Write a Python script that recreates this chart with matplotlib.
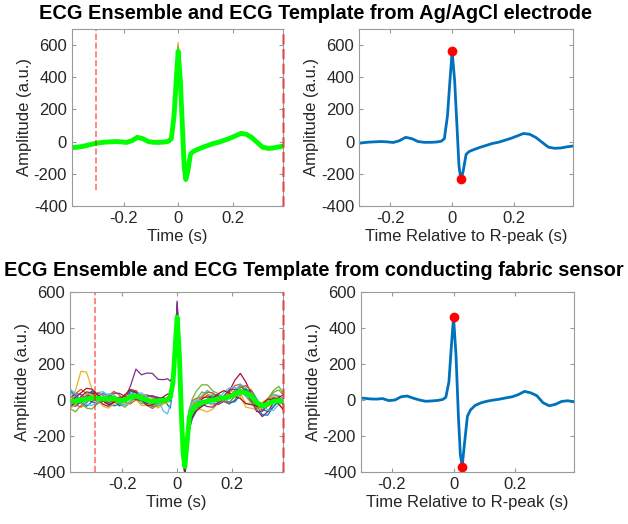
import matplotlib
matplotlib.use('Agg')
import matplotlib.pyplot as plt
import numpy as np

plt.rcParams['font.family'] = ['Liberation Sans', 'DejaVu Sans']
plt.rcParams['axes.unicode_minus'] = False

#%% Datos
# eje de tiempo común (s), más denso alrededor del complejo QRS
t = [-0.39, -0.37, -0.35, -0.33, -0.31, -0.29, -0.27, -0.25, -0.23, -0.21,
     -0.19, -0.17, -0.15, -0.13, -0.11, -0.09, -0.07, -0.05,
     -0.035, -0.025, -0.015, -0.007, 0.0, 0.008, 0.016, 0.022, 0.028, 0.035,
     0.045, 0.055, 0.07,
     0.09, 0.11, 0.13, 0.15, 0.17, 0.19, 0.21, 0.23, 0.25, 0.27, 0.29, 0.31,
     0.33, 0.35, 0.37, 0.39]

# plantilla ECG - electrodo Ag/AgCl
tmpl_agcl = [-38, -35, -30, -22, -14, -8, -4, -2, 0, -2,
             -6, 5, 26, 18, 0, -5, -5, -3,
             2, 18, 160, 380, 560, 380, 80, -150, -235, -190,
             -80, -62, -50,
             -36, -24, -12, -4, 8, 20, 35, 50, 45, 25, -5, -35,
             -42, -40, -33, -28]

# plantilla ECG - sensor de tela conductora
tmpl_fabric = [-8, -5, 0, 5, 10, 10, 6, 5, 8, -3,
               0, 18, 22, 10, 0, -7, -5, -2,
               3, 15, 100, 300, 460, 250, -100, -300, -370, -250,
               -90, -55, -30,
               -15, -6, 0, 5, 12, 18, 30, 48, 40, 24, -15, -32,
               -24, -8, -4, -10]

# desviaciones de cada latido respecto a la plantilla (Ag/AgCl)
dev_agcl = [
    [-5, -8, -6, -3, 0, 2, 4, 3, -2, -5, -4, 2, 6, 3, -2, -6, -8, -4,
     -2, 0, 10, 20, 40, 15, 0, -5, -10, -5, -6, -4, -2,
     -4, -6, -3, 2, 6, 8, 5, 2, -3, -6, -4, 2, 6, 3, -2, -6],
    [6, 4, 1, -2, -5, -3, 0, 4, 6, 3, -2, -5, -8, -4, 2, 5, 3, 0,
     0, -2, -10, -20, 20, -10, -20, 10, 5, 8, 6, 3, 2,
     5, 8, 4, -2, -6, -4, 2, 8, 10, 4, -4, -8, -5, 2, 6, 4],
    [-10, -6, -2, 2, 4, 2, -3, -6, -4, 0, 3, 6, 4, -2, -6, -4, 0, 2,
     3, 5, 15, 30, 55, 30, 10, -10, -15, -10, -4, -2, 0,
     2, -2, -6, -8, -4, 2, 6, 10, 6, 0, -5, -10, -12, -6, 0, 4],
    [3, 5, 8, 6, 2, -2, -4, -2, 2, 5, 4, 0, -4, -6, -3, 2, 5, 4,
     2, 0, -5, -15, -10, -20, -10, 5, 0, -6, -8, -5, -2,
     -6, -2, 2, 5, 4, 0, -4, -6, -2, 4, 8, 6, 2, -4, -8, -5],
    [0, -3, -5, -6, -3, 1, 5, 6, 3, -1, -5, -8, -2, 5, 8, 4, -2, -4,
     -3, -1, 5, 10, 30, 0, -15, -15, -5, 5, 4, 2, 4,
     6, 4, 0, -4, -8, -6, -2, 3, 8, 12, 6, -2, -6, -10, -4, 2],
    [8, 6, 3, 0, -2, -4, -2, 0, -3, -6, -2, 4, 8, 4, 0, 3, 6, 3,
     1, 2, -5, -10, 15, 10, 0, -8, -12, -4, 3, 6, 4,
     2, 0, 2, -2, 0, 4, -2, -6, -4, -2, 4, 10, 8, 4, 0, -2],
]

# desviaciones de cada latido respecto a la plantilla (tela conductora)
dev_fabric = [
    [60, 30, -10, -40, -20, 10, 30, 20, -10, -30, -20, 10, 30, 10, -20, -30, -10, 20,
     -30, -60, -20, 30, 60, 20, -20, -30, -40, -60, -50, -30, -20,
     -10, 10, 30, 20, -10, -30, -40, -20, 10, 30, 20, -20, -40, -30, 0, 20],
    [20, 40, 60, 30, 0, -20, -10, 20, 40, 30, -10, -40, -20, 10, 30, 20, 0, -10,
     10, 20, 30, 40, 50, 20, 0, 10, 20, 30, 40, 50, 40,
     30, 20, 0, -20, -10, 20, 50, 40, 10, -20, -30, -10, 20, 40, 20, 0],
    [-20, 60, 160, 150, 50, -10, -30, -10, 20, 10, -20, -30, -10, 10, 20, -10, -40, -20,
     0, 10, 20, 30, 40, 10, -20, -20, -10, 20, 40, 30, 20,
     10, -10, -30, -20, 10, 30, 20, -10, -60, -40, -10, 20, 30, 10, -20, -40],
    [-10, -20, -10, 10, 30, 20, 0, -20, -10, 20, 10, 60, 150, 130, 150, 155, 120, 115,
     115, 90, 40, 20, 80, 40, 0, -10, -20, -10, 0, 10, 10,
     0, -10, -20, -30, -20, 0, 20, 30, 10, -10, -20, -10, 10, 20, 0, -10],
    [-40, -60, -30, 0, 20, 10, -10, -30, -20, 10, 30, 20, -10, -30, -20, 0, 20, 10,
     0, -10, -10, 0, 20, 10, 0, 0, 10, 20, 40, 60, 80,
     100, 90, 50, 30, 0, -10, 10, 30, 20, -10, -20, 0, 30, 60, 80, 40],
    [50, 20, -10, -20, 0, 30, 40, 20, -10, -20, 0, 20, 10, -20, -30, -10, 10, -60,
     -80, -40, 0, 20, 30, 0, -10, -20, -30, -40, -20, 0, 10,
     40, 60, 30, 0, -20, -10, 20, 40, 30, 0, -30, -20, 10, 40, 30, 10],
    [-30, -10, 20, 40, 30, 0, -30, -40, -20, 10, 20, 0, -20, -10, 20, 30, 10, -10,
     -10, 0, 10, 20, 30, 0, -30, -20, -30, -40, -30, -10, 0,
     20, 30, 10, -20, -10, 30, 80, 100, 60, 10, -40, -60, -40, -10, 20, 40],
    [-20, -30, -10, 20, 40, 20, -10, -30, -40, -20, 10, 30, 20, -10, -20, 0, 10, 0,
     -10, -20, -30, -20, 30, -10, 0, -10, -50, -80, -70, -50, -30,
     -20, 0, 20, 10, -20, -40, -30, 0, 20, 10, -20, -50, -60, -30, 0, 10],
    [10, -20, -40, -20, 10, 30, 20, 0, -20, -10, 20, 40, 30, 0, -30, -40, -20, 0,
     10, 20, 40, 60, 70, 30, 10, 0, -20, -40, -30, -10, 10,
     30, 50, 40, 10, -20, -30, -10, 20, 40, 30, 0, -30, -10, 20, 0, -20],
    [-40, -20, 10, 30, 20, -10, -40, -50, -30, 0, 20, 10, -20, -40, -30, -10, 0, -20,
     -20, -10, 0, 10, 20, 0, -10, -20, -20, -10, 0, -10, -20,
     -40, -60, -50, -20, 10, 20, 0, -30, -80, -70, -40, -10, 20, 30, 10, -10],
    [20, 40, 30, 0, -20, -30, -10, 10, 30, 40, 20, 0, -20, -10, 20, 30, 20, 10,
     0, 10, 20, 40, 90, 30, 0, 10, -10, -30, -20, -10, 0,
     -10, -30, -40, -20, 10, 40, 30, 10, -10, -30, -50, -30, 0, 20, 10, -20],
    [30, 10, -20, -50, -60, -30, 0, 20, 10, -20, -40, -30, 0, 20, 10, -20, -30, -10,
     0, 0, -10, -20, -30, 0, 10, 20, 30, 50, 40, 20, 30,
     60, 40, 20, 0, -10, 0, 20, 10, -20, -40, -30, 0, 30, 50, 60, 30],
    [70, 40, 0, -30, -40, -20, 10, 30, 20, -10, -30, -20, 10, 30, 20, -10, -20, 0,
     10, 20, 30, 20, 10, -10, -20, -10, 0, 10, 30, 40, 30,
     10, -10, -20, 0, 30, 50, 40, 10, -20, -10, 10, 0, -30, -50, -20, 0],
    [0, 20, 40, 60, 50, 20, -10, -30, -20, 0, 30, 40, 20, -10, -30, -20, 0, 20,
     30, 20, 10, 0, -20, -10, 0, -20, -40, -60, -50, -40, -30,
     -20, -10, 10, 30, 40, 20, -10, -40, -60, -50, -20, 10, 30, 10, -20, -50],
]

titles = ['ECG Ensemble and ECG Template from Ag/AgCl electrode',
          'ECG Ensemble and ECG Template from conducting fabric sensor']
win_start = -0.3
win_end = 0.385

matlab_colors = ['#0072BD', '#D95319', '#EDB120', '#7E2F8E',
                 '#77AC30', '#4DBEEE', '#A2142F']
txt_color = '#262626'
spine_color = '#9a9a9a'

#%% Figura
fig = plt.figure(figsize=(6.28, 5.24), dpi=100)

positions = [
    ([0.1146, 0.607, 0.336, 0.338], [0.5717, 0.607, 0.341, 0.338]),
    ([0.1115, 0.0992, 0.339, 0.3435], [0.5748, 0.0992, 0.339, 0.3435]),
]
ylims = [(-400, 700), (-400, 600)]
vline_bottom = [-300, -400]
title_y = [0.975, 0.484]
title_x = [0.503, 0.5]


def style_axes(ax):
    for sp in ax.spines.values():
        sp.set_color(spine_color)
        sp.set_linewidth(0.8)
    ax.tick_params(direction='in', top=True, right=True, length=3,
                   color=spine_color, labelcolor=txt_color, labelsize=12)
    ax.set_yticks([-400, -200, 0, 200, 400, 600])
    ax.set_xticks([-0.2, 0, 0.2])
    ax.set_xticklabels(['-0.2', '0', '0.2'])


for row, (tmpl, devs) in enumerate([(tmpl_agcl, dev_agcl), (tmpl_fabric, dev_fabric)]):
    tt = np.array(t)
    yy = np.array(tmpl, dtype=float)

    # --- ensamble ---
    ax = fig.add_axes(positions[row][0])
    for i, d in enumerate(devs):
        ax.plot(tt, yy + np.array(d), color=matlab_colors[i % 7], lw=0.9)
    ax.plot(tt, yy, color='#00FF00', lw=3.5)
    ax.plot([win_start, win_start], [vline_bottom[row], ylims[row][1]],
            color='red', ls='--', lw=1.2, alpha=0.55)
    ax.plot([win_end, win_end], [ylims[row][0], ylims[row][1]],
            color='red', ls='--', lw=2.0, alpha=0.45, clip_on=False, zorder=5)
    ax.set_xlim(-0.39, win_end)
    ax.set_ylim(*ylims[row])
    style_axes(ax)
    ax.set_xlabel('Time (s)', fontsize=12, color=txt_color, labelpad=2)
    ax.set_ylabel('Amplitude (a.u.)', fontsize=12, color=txt_color, labelpad=1)

    # --- plantilla ---
    ax2 = fig.add_axes(positions[row][1])
    ax2.plot(tt, yy, color='#0072BD', lw=2)
    ipk = int(np.argmax(yy))
    itr = int(np.argmin(yy))
    ax2.plot(tt[[ipk, itr]], yy[[ipk, itr]], 'o', color='red', ms=6,
             markeredgecolor='red')
    ax2.set_xlim(win_start, 0.39)
    ax2.set_ylim(*ylims[row])
    style_axes(ax2)
    ax2.set_xlabel('Time Relative to R-peak (s)', fontsize=12, color=txt_color,
                   labelpad=2)
    ax2.set_ylabel('Amplitude (a.u.)', fontsize=12, color=txt_color, labelpad=1)

    fig.text(title_x[row], title_y[row], titles[row], ha='center', va='center',
             fontsize=14.4, fontweight='bold', color='black')

fig.savefig('out.png', dpi=100)
